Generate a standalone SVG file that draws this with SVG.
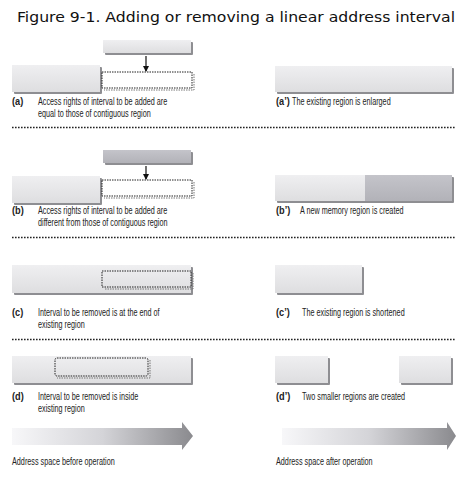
<svg xmlns="http://www.w3.org/2000/svg" width="465" height="480" viewBox="0 0 465 480">
<defs>
<linearGradient id="boxg" x1="0" y1="0" x2="0" y2="1">
<stop offset="0" stop-color="#efeff1"/>
<stop offset="1" stop-color="#dedee0"/>
</linearGradient>
<linearGradient id="darkg" x1="0" y1="0" x2="0" y2="1">
<stop offset="0" stop-color="#c4c4ca"/>
<stop offset="1" stop-color="#b2b2b8"/>
</linearGradient>
<linearGradient id="arrg" x1="0" y1="0" x2="1" y2="0">
<stop offset="0" stop-color="#f7f7f9"/>
<stop offset="0.5" stop-color="#d4d4d8"/>
<stop offset="1" stop-color="#8a8a8e"/>
</linearGradient>
<marker id="ah" markerWidth="6" markerHeight="6" refX="5" refY="3" orient="auto" markerUnits="userSpaceOnUse">
<path d="M0,0 L6,3 L0,6 z" fill="#111"/>
</marker>
</defs>
<style>
.sh{fill:#8e8e92}
.bx{fill:url(#boxg)}
.dk{fill:url(#darkg)}
.dot{fill:none;stroke:#222;stroke-width:1;stroke-dasharray:1.5 1}
.dots{fill:none;stroke:#777;stroke-width:1;stroke-dasharray:1.5 1}
.sep{stroke:#222;stroke-width:1.6;stroke-dasharray:1.6 1.4}
.title{font-family:"DejaVu Sans",Verdana,sans-serif;font-size:14px;fill:#111}
.t{font-family:"Liberation Sans",Arial,sans-serif;font-size:11.5px;fill:#222}
.b{font-family:"Liberation Sans",Arial,sans-serif;font-size:11.5px;font-weight:bold;fill:#222}
.conn{stroke:#111;stroke-width:1.2;fill:none}
</style>
<rect width="465" height="480" fill="#fff"/>
<text class="title" x="17" y="22" textLength="438" lengthAdjust="spacingAndGlyphs">Figure 9-1. Adding or removing a linear address interval</text>

<!-- separators -->
<g id="separators">
<line class="sep" x1="12" y1="127.5" x2="455" y2="127.5"/>
<line class="sep" x1="12" y1="237.5" x2="455" y2="237.5"/>
<line class="sep" x1="12" y1="339.5" x2="455" y2="339.5"/>
</g>

<!-- (a) -->
<g id="a-new">
<rect class="sh" x="105" y="42" width="88" height="13" rx="1"/>
<rect class="bx" x="103" y="40" width="88" height="13"/>
</g>
<g id="a-region">
<rect class="sh" x="14" y="67" width="88" height="27" rx="1"/>
<rect class="bx" x="12" y="65" width="88" height="27"/>
</g>
<g id="a-interval">
<polyline class="dots" points="194,74 194,90 104,90"/>
<rect class="dot" x="102" y="72" width="90" height="16"/>
</g>
<g id="a-label">
<text class="b" transform="translate(12 105) scale(0.8 1)">(a)</text>
<text class="t" transform="translate(38 105) scale(0.63 1)">Access rights of interval to be added are</text>
<text class="t" transform="translate(38 117) scale(0.63 1)">equal to those of contiguous region</text>
</g>
<g id="a2-region">
<rect class="sh" x="277" y="68" width="177" height="26" rx="1"/>
<rect class="bx" x="275" y="66" width="177" height="26"/>
</g>
<g id="a2-label">
<text class="b" transform="translate(276 105) scale(0.8 1)">(a’)</text>
<text class="t" transform="translate(292 105) scale(0.63 1)">The existing region is enlarged</text>
</g>

<!-- (b) -->
<g id="b-new">
<rect class="sh" x="105" y="152" width="88" height="13" rx="1"/>
<rect class="dk" x="103" y="150" width="88" height="13"/>
</g>
<g id="b-region">
<rect class="sh" x="14" y="178" width="88" height="27" rx="1"/>
<rect class="bx" x="12" y="176" width="88" height="27"/>
</g>
<g id="b-interval">
<polyline class="dots" points="194,182 194,198 104,198"/>
<rect class="dot" x="102" y="180" width="90" height="16"/>
</g>
<g id="b-label">
<text class="b" transform="translate(12 214) scale(0.8 1)">(b)</text>
<text class="t" transform="translate(38 214) scale(0.63 1)">Access rights of interval to be added are</text>
<text class="t" transform="translate(38 226) scale(0.63 1)">different from those of contiguous region</text>
</g>
<g id="b2-region">
<rect class="sh" x="277" y="177" width="177" height="26" rx="1"/>
<rect class="bx" x="275" y="175" width="90" height="26"/>
<rect class="dk" x="365" y="175" width="87" height="26"/>
</g>
<g id="b2-label">
<text class="b" transform="translate(276 214) scale(0.8 1)">(b’)</text>
<text class="t" transform="translate(300 214) scale(0.63 1)">A new memory region is created</text>
</g>

<!-- (c) -->
<g id="c-region">
<rect class="sh" x="14" y="267" width="179" height="28" rx="1"/>
<rect class="bx" x="12" y="265" width="179" height="28"/>
</g>
<g id="c-interval">
<polyline class="dots" points="193,273 193,289 104,289"/>
<rect class="dot" x="102" y="271" width="89" height="16"/>
</g>
<g id="c-label">
<text class="b" transform="translate(12 316) scale(0.8 1)">(c)</text>
<text class="t" transform="translate(38 316) scale(0.63 1)">Interval to be removed is at the end of</text>
<text class="t" transform="translate(38 328) scale(0.63 1)">existing region</text>
</g>
<g id="c2-region">
<rect class="sh" x="277" y="267" width="87" height="28" rx="1"/>
<rect class="bx" x="275" y="265" width="87" height="28"/>
</g>
<g id="c2-label">
<text class="b" transform="translate(276 316) scale(0.8 1)">(c’)</text>
<text class="t" transform="translate(302 316) scale(0.63 1)">The existing region is shortened</text>
</g>

<!-- (d) -->
<g id="d-region">
<rect class="sh" x="14" y="358" width="179" height="27" rx="1"/>
<rect class="bx" x="12" y="356" width="179" height="27"/>
</g>
<g id="d-interval">
<polyline class="dots" points="150,360 150,378 57,378"/>
<rect class="dot" x="55" y="358" width="93" height="18" rx="2"/>
</g>
<g id="d-label">
<text class="b" transform="translate(12 400) scale(0.8 1)">(d)</text>
<text class="t" transform="translate(38 400) scale(0.63 1)">Interval to be removed is inside</text>
<text class="t" transform="translate(38 412) scale(0.63 1)">existing region</text>
</g>
<g id="d2-regions">
<rect class="sh" x="277" y="358" width="53" height="27" rx="1"/>
<rect class="bx" x="275" y="356" width="53" height="27"/>
<rect class="sh" x="401" y="358" width="52" height="27" rx="1"/>
<rect class="bx" x="399" y="356" width="52" height="27"/>
</g>
<g id="d2-label">
<text class="b" transform="translate(276 400) scale(0.8 1)">(d’)</text>
<text class="t" transform="translate(302 400) scale(0.63 1)">Two smaller regions are created</text>
</g>

<!-- address space arrows -->
<g id="before">
<polygon fill="url(#arrg)" points="12,428 182,428 182,422 193,436 182,450 182,445 12,445"/>
<text class="t" transform="translate(12 465) scale(0.63 1)">Address space before operation</text>
</g>
<g id="after">
<polygon fill="url(#arrg)" points="282,428 447,428 447,422 456,436 447,450 447,445 282,445"/>
<text class="t" transform="translate(276 465) scale(0.63 1)">Address space after operation</text>
</g>

<g id="connectors">
<line class="conn" x1="146" y1="56" x2="146" y2="71" marker-end="url(#ah)"/>
<line class="conn" x1="146" y1="166" x2="146" y2="179" marker-end="url(#ah)"/>
</g>
</svg>
